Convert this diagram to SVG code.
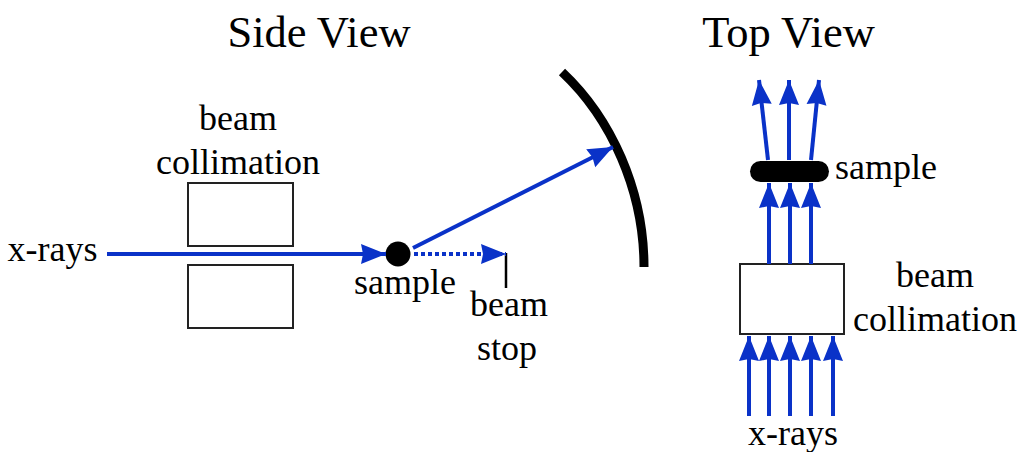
<svg xmlns="http://www.w3.org/2000/svg" width="1018" height="452" viewBox="0 0 1018 452">
<style>
text{font-family:"Liberation Serif","Times New Roman",serif;fill:#000;text-anchor:middle}
.t{font-size:44.5px}.l{font-size:36px}
.box{fill:#fff;stroke:#222;stroke-width:2}
.b{stroke:#0a32c8;stroke-width:4;fill:none}
</style>
<defs><marker id="a" markerUnits="userSpaceOnUse" markerWidth="26" markerHeight="22" refX="25" refY="11" orient="auto"><path d="M0 1L25 11L0 21L2 11Z" fill="#0a32c8"/></marker></defs>
<rect width="1018" height="452" fill="#fff"/>
<text class="t" x="319" y="47">Side View</text>
<text class="t" x="788.500" y="47">Top View</text>
<g id="side-collimator-top"><rect class="box" x="188" y="183" width="105" height="63"/></g>
<g id="side-collimator-bottom"><rect class="box" x="188" y="265" width="105" height="63"/></g>
<g id="top-collimator"><rect class="box" x="740" y="264" width="104" height="70"/></g>
<g id="detector"><path d="M562 72C611 118 644 190 644 267" fill="none" stroke="#000" stroke-width="9"/></g>
<g id="beam-stop"><path d="M506 253V288" stroke="#000" stroke-width="2.500"/></g>
<g id="side-sample"><circle cx="398" cy="254" r="12.500" fill="#000"/></g>
<g id="top-sample"><rect x="750" y="161" width="79" height="21" rx="10.500" fill="#000"/></g>
<g id="connectors">
<path class="b" d="M107 254H386" marker-end="url(#a)"/>
<path class="b" d="M413 248L613 147" marker-end="url(#a)"/>
<path class="b" d="M414 254H506" stroke-dasharray="4 3" marker-end="url(#a)"/>
<path class="b" d="M768 160L759 80" marker-end="url(#a)"/>
<path class="b" d="M789 160V80" marker-end="url(#a)"/>
<path class="b" d="M811 160L819 80" marker-end="url(#a)"/>
<path class="b" d="M769 264V183" marker-end="url(#a)"/>
<path class="b" d="M790 264V183" marker-end="url(#a)"/>
<path class="b" d="M811 264V183" marker-end="url(#a)"/>
<path class="b" d="M749 416V336" marker-end="url(#a)"/>
<path class="b" d="M769 416V336" marker-end="url(#a)"/>
<path class="b" d="M790 416V336" marker-end="url(#a)"/>
<path class="b" d="M811 416V336" marker-end="url(#a)"/>
<path class="b" d="M833 416V336" marker-end="url(#a)"/>
</g>
<text class="l" x="238" y="130">beam</text>
<text class="l" x="238" y="174">collimation</text>
<text class="l" x="52.500" y="261">x-rays</text>
<text class="l" x="405" y="294">sample</text>
<text class="l" x="509" y="316">beam</text>
<text class="l" x="507" y="360">stop</text>
<text class="l" x="886" y="179">sample</text>
<text class="l" x="935" y="287">beam</text>
<text class="l" x="935" y="331">collimation</text>
<text class="l" x="793" y="445">x-rays</text>
</svg>
